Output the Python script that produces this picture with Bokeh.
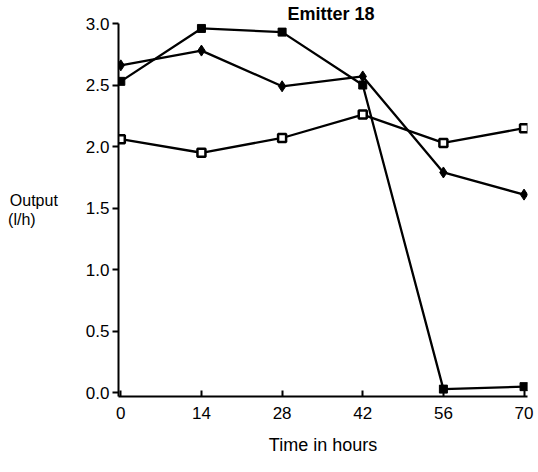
from bokeh.plotting import figure
from bokeh.models import Range1d, FixedTicker, PrintfTickFormatter
from bokeh.embed import file_html
from bokeh.resources import INLINE

hours = [0, 14, 28, 42, 56, 70]
series_a = [2.53, 2.96, 2.93, 2.50, 0.03, 0.05]   # filled squares
series_b = [2.66, 2.78, 2.49, 2.57, 1.79, 1.61]   # filled diamonds
series_c = [2.06, 1.95, 2.07, 2.26, 2.03, 2.15]   # open squares
x_ticks = [0, 14, 28, 42, 56, 70]
y_ticks = [0.0, 0.5, 1.0, 1.5, 2.0, 2.5, 3.0]

FONT = "Liberation Sans"

p = figure(width=538, height=472, output_backend="svg", toolbar_location=None,
           x_range=Range1d(-0.4, 70.6), y_range=Range1d(-0.03, 3.0),
           min_border_left=118, min_border_right=11, min_border_top=23,
           min_border_bottom=76)
p.outline_line_color = None
p.grid.visible = False
p.background_fill_color = "white"
p.border_fill_color = "white"

p.title.text = "Emitter  18"
p.title.align = "left"
p.title.offset = 169
p.title.text_font = FONT
p.title.text_font_size = "18px"
p.title.text_font_style = "bold"
p.title.text_color = "black"
p.title.standoff = 0

p.line(hours, series_a, line_color="black", line_width=2.3)
p.scatter(hours, series_a, marker="square", size=8, fill_color="black", line_color="black")
p.line(hours, series_b, line_color="black", line_width=2.3)
p.scatter(hours, series_b, marker="diamond", size=11, fill_color="black", line_color="black")
p.line(hours, series_c, line_color="black", line_width=2.3)
p.scatter(hours, series_c, marker="square", size=8, fill_color="white", line_color="black", line_width=2.5)

xa = p.xaxis[0]
xa.ticker = FixedTicker(ticks=x_ticks)
xa.major_tick_in = 6
xa.major_tick_out = 0
xa.minor_tick_line_color = None
xa.axis_line_width = 2
xa.axis_line_color = "black"
xa.major_tick_line_width = 2
xa.major_label_standoff = 10
xa.major_label_text_font = FONT
xa.major_label_text_font_size = "17px"
xa.major_label_text_color = "black"
xa.axis_label = "Time in hours"
xa.axis_label_text_font = FONT
xa.axis_label_text_font_size = "18px"
xa.axis_label_text_font_style = "normal"
xa.axis_label_text_color = "black"
xa.axis_label_standoff = 13

ya = p.yaxis[0]
ya.ticker = FixedTicker(ticks=y_ticks)
ya.formatter = PrintfTickFormatter(format="%.1f")
ya.major_tick_in = 0
ya.major_tick_out = 6
ya.minor_tick_line_color = None
ya.axis_line_width = 2
ya.axis_line_color = "black"
ya.major_tick_line_width = 2
ya.major_label_standoff = 3
ya.major_label_text_font = FONT
ya.major_label_text_font_size = "17px"
ya.major_label_text_color = "black"
ya.axis_label = "Output\n(l/h)\u00a0\u00a0\u00a0\u00a0\u00a0"
ya.axis_label_orientation = "horizontal"
ya.axis_label_text_font = FONT
ya.axis_label_text_font_size = "16px"
ya.axis_label_text_font_style = "normal"
ya.axis_label_text_color = "black"
ya.axis_label_text_line_height = 1.1
ya.axis_label_standoff = 25

open("out.html", "w").write(file_html(p, INLINE))
